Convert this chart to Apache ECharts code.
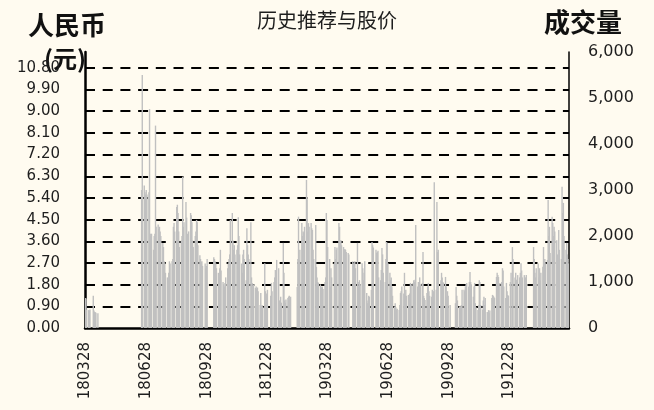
<!DOCTYPE html>
<html>
<head>
<meta charset="utf-8">
<script src="https://cdn.jsdelivr.net/npm/echarts@6/dist/echarts.min.js"></script>
<style>
  html, body { margin: 0; padding: 0; background: #FFFBF0; }
  #chart { width: 654px; height: 410px; }
</style>
</head>
<body>
<div id="chart"></div>
<script>
// ---- data ----
const chartTitle = '历史推荐与股价';
const leftAxisName = ['人民币', '(元)'];
const rightAxisName = '成交量';
const tickLabels = ['180328', '180628', '180928', '181228', '190328', '190628', '190928', '191228'];
const firstDay = [2018, 3, 28];
const lastDay = [2020, 3, 27];
const priceAxis = { min: 0, max: 11.46, interval: 0.9 };
const volumeAxis = { min: 0, max: 6000, interval: 1000 };

// trading volume per weekday (Mon..Fri), null = suspended / holiday
const weekdayVolume = [
  650, 640, 400,                       // 2018-03-28 .. 03-30
  390, 380, 400, null, null,
  700, 380, 350, 340, 330,
  320, null, null, null, null,
  null, null, null, null, null,
  null, null, null, null, null,
  null, null, null, null, null,
  null, null, null, null, null,
  null, null, null, null, null,
  null, null, null, null, null,
  null, null, null, null, null,
  null, null, null, null, null,
  null, null, null, 3000, 5500,        // 2018-06-18
  3100, 2950, 2900, 3000, 2900,
  2950, 4760, 2050, 2000, 2050,
  1700, 2000, 2050, 4400, 2200,
  2250, 2150, 2200, 2100, 2000,
  1850, 1760, 1450, 1400, 1200,
  1100, 1050, 1200, 1450, 1400,
  1450, 1500, 2200, 2280, 2100,
  2630, 2680, 2500, 2100, 1760,
  1900, 2000, 3290, 2200, 2300,
  2740, 2400, 2050, 2000, 2100,
  2500, 2450, 2300, 1900, 1760,
  2000, 2100, 2350, 2300, 1800,
  1580, 1500, 1400, 1450, 1350,
  null, 1400, 1300, 1350, 1500,
  null, null, null, null, null,        // 2018-10-01
  1540, 1500, 1450, 1400, 1300,
  1200, 1100, 1300, 1700, 1250,
  1000, 950, 900, 980, 1100,
  1300, 1400, 1500, 1600, 2350,
  2500, 1900, 1700, 1800, 1600,
  1700, 1800, 2410, 2000, 1600,
  1400, 1200, 1600, 1700, 1500,
  1040, 2170, 1800, 1600, 1500,
  2300, 1100, 980, 900, 950,
  870, 900, 850, 880, 800,
  500, 760, 480, 500, 460,
  1410, 800, 700, 750, 830,
  null, null, 700, 980, 800,           // 2018-12-31
  1000, 1100, 1260, 1150, 1480,
  1300, 600, 500, 680, 550,
  1850, 1200, 600, 550, 620,
  650, 680, 700, 600, 680,
  null, null, null, null, null,        // 2019-02-04
  890, 1500, 2420, 1480, 1700,
  2280, 2000, 2100, 2070, 2200,
  3220, 2800, 2100, 2280, 2200,
  2280, 2170, 2130, 1700, 1500,
  2240, 1330, 1100, 1000, 980,
  950, 900, 880, 900, 850,
  1000, 1100, 2500, 2350, 1760,
  1500, 900, 1300, 1100, null,         // 2019-04-01
  1400, 1760, 1500, 1700, 1750,
  2280, 2200, 1900, 1910, 1800,
  1760, 1700, 1720, 1700, 1650,
  1630, 1600, null, null, null,
  1450, 1400, 1410, 1450, 1300,
  1850, 1000, 900, 1040, 950,
  1410, 1300, 1040, 1200, 1450,
  760, 540, 600, 700, 680,
  830, 1870, 1800, 1750, null,
  1700, 1630, 1650, 1680, 1100,
  1040, 1260, 1740, 1600, 1200,
  1000, 1500, 1870, 1850, 1410,
  1200, 1040, 1100, 900, 700,          // 2019-07-01
  460, 540, 450, 400, 420,
  390, 500, 760, 800, 900,
  750, 1200, 700, 830, 700,
  720, 700, 750, 980, 950,
  980, 1040, 1000, 1050, 2240,
  900, 1000, 830, 1100, 950,
  980, 1650, 700, 650, 610,
  760, 900, 980, 800, 700,
  680, 830, 750, 800, 3170,
  830, 2740, 1650, 1700, null,
  1040, 1200, 1100, 1000, 980,
  1110, 900, 680, 800, 700,
  500, null, null, null, null,         // 2019-09-30
  null, 540, 890, 700, 600,
  460, 480, 460, 500, 830,
  830, 800, 900, 950, 980,
  900, 1000, 1220, 1000, 950,
  680, 900, 980, 540, 450,
  390, 500, 1040, 1000, 500,
  400, 600, 680, 500, 650,
  350, 320, 390, 330, 380,
  650, 720, 700, 680, 650,
  1110, 1200, 1150, 1110, 980,
  980, 1000, 1300, 1250, 900,
  650, 980, 800, 720, 700,
  1000, 1200, null, 1760, 1500,        // 2019-12-30
  1100, 1200, 1050, 1000, 1150,
  1100, 1200, 1410, 1250, 1100,
  1150, 1050, 1100, 1150, null,
  null, null, null, null, null,        // 2020-01-27
  1760, 1500, 1200, 1100, 1300,
  1400, 1100, 1300, 1040, 1200,
  1330, 1760, 1410, 1500, 1400,
  1480, 2780, 2000, 2200, 1630,
  2420, 2280, 2000, 2200, 2100,
  1910, 1600, 1480, 2130, 1700,
  1500, 3070, 2500, 2720, 2000,
  1700, 1850, 1600, 1500, 1400
];

// ---- build calendar-day categories (date axis) ----
function pad(n) { return (n < 10 ? '0' : '') + n; }
const days = [];
const volume = [];
let wi = 0;
const t0 = Date.UTC(firstDay[0], firstDay[1] - 1, firstDay[2]);
const t1 = Date.UTC(lastDay[0], lastDay[1] - 1, lastDay[2]);
for (let t = t0; t <= t1; t += 86400000) {
  const d = new Date(t);
  days.push(String(d.getUTCFullYear()).slice(2) + pad(d.getUTCMonth() + 1) + pad(d.getUTCDate()));
  const wd = d.getUTCDay();
  if (wd === 0 || wd === 6) volume.push(null);
  else volume.push(weekdayVolume[wi++] ?? null);
}

const chart = echarts.init(document.getElementById('chart'), null, { renderer: 'canvas' });
const txt = '#1e1e1e';
chart.setOption({
  backgroundColor: '#FFFBF0',
  animation: false,
  title: {
    text: chartTitle,
    left: 'center',
    top: 5,
    textStyle: { fontFamily: 'Noto Sans CJK SC', fontSize: 20, fontWeight: 'normal', color: txt }
  },
  graphic: [
    { type: 'text', x: 67, y: 25, style: { text: leftAxisName[0], textAlign: 'center', textVerticalAlign: 'middle',
      font: 'bold 26px "Noto Sans CJK SC"', fill: '#111' } },
    { type: 'text', x: 65, y: 59, style: { text: leftAxisName[1], textAlign: 'center', textVerticalAlign: 'middle',
      font: 'bold 24px "Noto Sans CJK SC"', fill: '#111' } },
    { type: 'text', x: 583, y: 22, style: { text: rightAxisName, textAlign: 'center', textVerticalAlign: 'middle',
      font: 'bold 26px "Noto Sans CJK SC"', fill: '#111' } }
  ],
  grid: { left: 85, right: 85, top: 52, bottom: 82, containLabel: false },
  xAxis: {
    type: 'category',
    data: days,
    boundaryGap: true,
    axisLine: { show: true, lineStyle: { color: '#000', width: 2.5 } },
    axisTick: { show: false },
    splitLine: { show: false },
    axisLabel: {
      interval: (idx, val) => tickLabels.includes(val),
      rotate: 90,
      margin: 14,
      fontFamily: 'DejaVu Sans',
      fontSize: 15,
      color: txt
    }
  },
  yAxis: [
    {
      type: 'value',
      position: 'left',
      min: priceAxis.min, max: priceAxis.max, interval: priceAxis.interval,
      axisLine: { show: true, lineStyle: { color: '#000', width: 2.5 } },
      axisTick: { show: false },
      axisLabel: {
        formatter: v => v.toFixed(2),
        showMaxLabel: false,
        margin: 25,
        fontFamily: 'DejaVu Sans',
        fontSize: 15,
        color: txt
      },
      splitLine: {
        show: true,
        showMaxLine: false,
        showMinLine: false,
        lineStyle: { color: '#000', width: 2, type: [10, 7.7] }
      }
    },
    {
      type: 'value',
      position: 'right',
      min: volumeAxis.min, max: volumeAxis.max, interval: volumeAxis.interval,
      axisLine: { show: true, lineStyle: { color: '#000', width: 1.5 } },
      axisTick: { show: false },
      splitLine: { show: false },
      axisLabel: {
        formatter: v => v.toLocaleString('en-US'),
        margin: 19,
        fontFamily: 'DejaVu Sans',
        fontSize: 16,
        color: txt
      }
    }
  ],
  series: [
    {
      name: rightAxisName,
      type: 'bar',
      yAxisIndex: 1,
      data: volume,
      barWidth: 1.4,
      itemStyle: { color: '#C0C0C0' }
    }
  ]
});
</script>
</body>
</html>
